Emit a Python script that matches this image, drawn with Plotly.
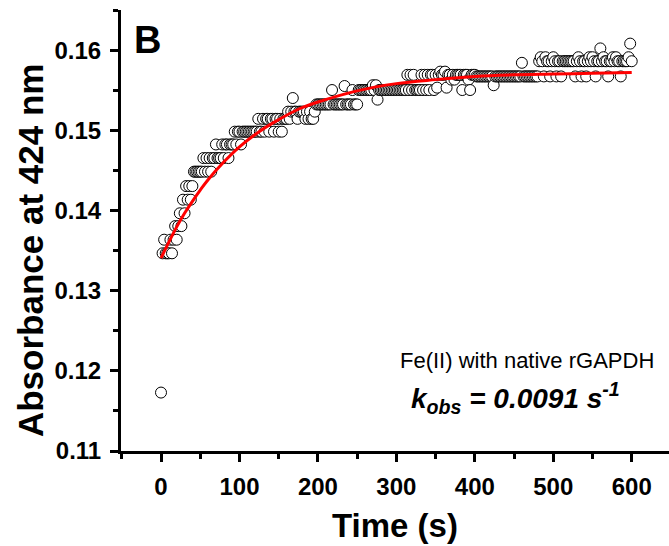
import plotly.graph_objects as go

# Sample times (s)
time_s = [
    0, 2, 4, 6, 8, 10, 12, 14, 16, 18,
    20, 22, 24, 26, 28, 30, 32, 34, 36, 38,
    40, 42, 44, 46, 48, 50, 52, 54, 56, 58,
    60, 62, 64, 66, 68, 70, 72, 74, 76, 78,
    80, 82, 84, 86, 88, 90, 92, 94, 96, 98,
    100, 102, 104, 106, 108, 110, 112, 114, 116, 118,
    120, 122, 124, 126, 128, 130, 132, 134, 136, 138,
    140, 142, 144, 146, 148, 150, 152, 154, 156, 158,
    160, 162, 164, 166, 168, 170, 172, 174, 176, 178,
    180, 182, 184, 186, 188, 190, 192, 194, 196, 198,
    200, 202, 204, 206, 208, 210, 212, 214, 216, 218,
    220, 222, 224, 226, 228, 230, 232, 234, 236, 238,
    240, 242, 244, 246, 248, 250, 252, 254, 256, 258,
    260, 262, 264, 266, 268, 270, 272, 274, 276, 278,
    280, 282, 284, 286, 288, 290, 292, 294, 296, 298,
    300, 302, 304, 306, 308, 310, 312, 314, 316, 318,
    320, 322, 324, 326, 328, 330, 332, 334, 336, 338,
    340, 342, 344, 346, 348, 350, 352, 354, 356, 358,
    360, 362, 364, 366, 368, 370, 372, 374, 376, 378,
    380, 382, 384, 386, 388, 390, 392, 394, 396, 398,
    400, 402, 404, 406, 408, 410, 412, 414, 416, 418,
    420, 422, 424, 426, 428, 430, 432, 434, 436, 438,
    440, 442, 444, 446, 448, 450, 452, 454, 456, 458,
    460, 462, 464, 466, 468, 470, 472, 474, 476, 478,
    480, 482, 484, 486, 488, 490, 492, 494, 496, 498,
    500, 502, 504, 506, 508, 510, 512, 514, 516, 518,
    520, 522, 524, 526, 528, 530, 532, 534, 536, 538,
    540, 542, 544, 546, 548, 550, 552, 554, 556, 558,
    560, 562, 564, 566, 568, 570, 572, 574, 576, 578,
    580, 582, 584, 586, 588, 590, 592, 594, 596, 598,
    600,
]

# Absorbance at 424 nm (measured points)
absorbance = [
    0.1173, 0.1347, 0.1364, 0.1347, 0.1347, 0.1347, 0.1364, 0.1347, 0.1364, 0.1381,
    0.1364, 0.1381, 0.1397, 0.1381, 0.1414, 0.1397, 0.1431, 0.1414, 0.1431, 0.1414,
    0.1431, 0.1449, 0.1449, 0.1449, 0.1449, 0.1449, 0.1449, 0.1466, 0.1449, 0.1466,
    0.1449, 0.1466, 0.1449, 0.1466, 0.1466, 0.1483, 0.1466, 0.1466, 0.1466, 0.1483,
    0.1466, 0.1483, 0.1483, 0.1466, 0.1483, 0.1483, 0.1483, 0.1499, 0.1483, 0.1499,
    0.1499, 0.1483, 0.1499, 0.1499, 0.1499, 0.1499, 0.1499, 0.1499, 0.1499, 0.1499,
    0.1499, 0.1499, 0.1515, 0.1499, 0.1499, 0.1515, 0.1499, 0.1515, 0.1515, 0.1499,
    0.1515, 0.1515, 0.1499, 0.1515, 0.1515, 0.1499, 0.1515, 0.1499, 0.1515, 0.1515,
    0.1515, 0.1524, 0.1515, 0.1524, 0.1541, 0.1524, 0.1524, 0.1515, 0.1524, 0.1524,
    0.1524, 0.1524, 0.1515, 0.1524, 0.1515, 0.1524, 0.1515, 0.1515, 0.1524, 0.1533,
    0.1533, 0.1533, 0.1533, 0.1533, 0.1533, 0.1533, 0.1533, 0.1533, 0.1533, 0.1551,
    0.1533, 0.1533, 0.1533, 0.1533, 0.1533, 0.1533, 0.1533, 0.1556, 0.1533, 0.1533,
    0.1533, 0.1533, 0.1551, 0.1533, 0.1533, 0.1533, 0.1551, 0.1551, 0.1551, 0.1551,
    0.1551, 0.1551, 0.1551, 0.1551, 0.1551, 0.1557, 0.1551, 0.1557, 0.1539, 0.1551,
    0.1551, 0.1551, 0.1551, 0.1551, 0.1551, 0.1551, 0.1551, 0.1551, 0.1551, 0.1551,
    0.1551, 0.1551, 0.1551, 0.1551, 0.1551, 0.1551, 0.1551, 0.1570, 0.1551, 0.1570,
    0.1551, 0.1570, 0.1551, 0.1551, 0.1551, 0.1551, 0.1570, 0.1551, 0.1570, 0.1551,
    0.1570, 0.1551, 0.1570, 0.1570, 0.1551, 0.1570, 0.1554, 0.1570, 0.1574, 0.1570,
    0.1570, 0.1574, 0.1554, 0.1570, 0.1570, 0.1564, 0.1570, 0.1564, 0.1570, 0.1570,
    0.1570, 0.1570, 0.1551, 0.1570, 0.1570, 0.1570, 0.1564, 0.1551, 0.1570, 0.1570,
    0.1570, 0.1568, 0.1568, 0.1568, 0.1568, 0.1568, 0.1568, 0.1568, 0.1568, 0.1568,
    0.1568, 0.1568, 0.1557, 0.1568, 0.1568, 0.1568, 0.1568, 0.1568, 0.1568, 0.1568,
    0.1568, 0.1568, 0.1568, 0.1568, 0.1568, 0.1568, 0.1568, 0.1568, 0.1568, 0.1568,
    0.1585, 0.1568, 0.1568, 0.1568, 0.1568, 0.1568, 0.1568, 0.1568, 0.1568, 0.1568,
    0.1568, 0.1587, 0.1592, 0.1587, 0.1568, 0.1592, 0.1587, 0.1587, 0.1568, 0.1587,
    0.1592, 0.1587, 0.1568, 0.1587, 0.1587, 0.1568, 0.1587, 0.1587, 0.1587, 0.1587,
    0.1587, 0.1587, 0.1587, 0.1587, 0.1568, 0.1587, 0.1592, 0.1587, 0.1568, 0.1587,
    0.1587, 0.1568, 0.1587, 0.1592, 0.1587, 0.1592, 0.1587, 0.1568, 0.1587, 0.1587,
    0.1603, 0.1587, 0.1592, 0.1587, 0.1587, 0.1568, 0.1587, 0.1587, 0.1592, 0.1587,
    0.1592, 0.1587, 0.1587, 0.1568, 0.1587, 0.1587, 0.1587, 0.1587, 0.1592, 0.1609,
    0.1587,
]

# Fitted curve (red)
fit_time = [0, 10, 20, 30, 40, 50, 60, 80, 100, 125, 150, 175, 200,
            250, 300, 350, 400, 450, 500, 550, 600]
fit_abs = [0.1341, 0.1361, 0.1380, 0.1397, 0.1412, 0.1426, 0.1439, 0.1461,
           0.1480, 0.1499, 0.1514, 0.1527, 0.1536, 0.1550, 0.1559, 0.1564,
           0.1568, 0.1570, 0.1571, 0.1572, 0.1573]

x_ticks = [0, 100, 200, 300, 400, 500, 600]
y_ticks = [0.11, 0.12, 0.13, 0.14, 0.15, 0.16]

FONT = "Liberation Sans, Arial, sans-serif"
X_RANGE = [-51, 647.5]
Y_RANGE = [0.11, 0.1651]

fig = go.Figure()
fig.add_trace(go.Scatter(
    x=time_s, y=absorbance, mode="markers",
    marker=dict(symbol="circle", size=11, color="white",
                line=dict(color="black", width=1)),
    showlegend=False, hoverinfo="skip",
))
fig.add_trace(go.Scatter(
    x=fit_time, y=fit_abs, mode="lines", line_shape="spline",
    line=dict(color="#ff0000", width=3),
    showlegend=False, hoverinfo="skip",
))

tickfont = dict(family=FONT, size=24, color="black", weight="bold")

fig.update_layout(
    width=669, height=546,
    margin=dict(l=121, r=0, t=10, b=95),
    paper_bgcolor="white", plot_bgcolor="white",
    xaxis=dict(
        range=X_RANGE, showgrid=False, zeroline=False,
        showline=True, linecolor="black", linewidth=3,
        tickmode="array", tickvals=x_ticks, ticktext=[str(v) for v in x_ticks],
        ticks="outside", ticklen=8, tickwidth=3, tickcolor="black",
        minor=dict(dtick=50, tick0=0, ticks="outside", ticklen=5, tickwidth=3,
                   tickcolor="black", showgrid=False),
        tickfont=tickfont, ticklabelstandoff=4,
    ),
    yaxis=dict(
        range=Y_RANGE, showgrid=False, zeroline=False,
        showline=True, linecolor="black", linewidth=3,
        tickmode="array", tickvals=y_ticks, ticktext=["%.2f" % v for v in y_ticks],
        ticks="outside", ticklen=8, tickwidth=3, tickcolor="black",
        minor=dict(dtick=0.005, tick0=0.11, ticks="outside", ticklen=5, tickwidth=3,
                   tickcolor="black", showgrid=False),
        tickfont=tickfont, ticklabelstandoff=4,
    ),
    xaxis2=dict(
        overlaying="x", side="top", anchor="y", range=X_RANGE,
        showgrid=False, zeroline=False, showline=True, linecolor="black", linewidth=2,
        tickmode="array", tickvals=x_ticks, ticktext=[str(v) for v in x_ticks],
        showticklabels=False,
        ticks="inside", ticklen=6, tickwidth=2, tickcolor="black",
        minor=dict(dtick=50, tick0=0, ticks="inside", ticklen=4, tickwidth=2,
                   tickcolor="black", showgrid=False),
    ),
    yaxis2=dict(
        overlaying="y", side="right", anchor="x", range=Y_RANGE,
        showgrid=False, zeroline=False, showline=True, linecolor="black", linewidth=2,
        tickmode="array", tickvals=y_ticks, ticktext=["%.2f" % v for v in y_ticks],
        showticklabels=False,
        ticks="inside", ticklen=6, tickwidth=2, tickcolor="black",
        minor=dict(dtick=0.005, tick0=0.11, ticks="inside", ticklen=4, tickwidth=2,
                   tickcolor="black", showgrid=False),
    ),
)

annotations = [
    dict(text="Time (s)", xref="paper", yref="paper", x=0.5, y=-0.17,
         xanchor="center", yanchor="middle", showarrow=False,
         font=dict(family=FONT, size=33, color="black", weight="bold")),
    dict(text="Absorbance at 424 nm", xref="paper", yref="paper",
         x=-0.166, y=0.4535, xanchor="center", yanchor="middle", textangle=-90,
         showarrow=False,
         font=dict(family=FONT, size=35, color="black", weight="bold")),
    dict(text="B", xref="paper", yref="paper", x=0.02, y=0.932,
         xanchor="left", yanchor="middle", showarrow=False,
         font=dict(family=FONT, size=38, color="black", weight="bold")),
    dict(text="Fe(II) with native rGAPDH", xref="paper", yref="paper",
         x=0.9763, y=0.2063, xanchor="right", yanchor="middle", showarrow=False,
         font=dict(family=FONT, size=22, color="black")),
    dict(text="k<sub>obs</sub> = 0.0091 s<sup>-1</sup>", xref="paper", yref="paper",
         x=0.5264, y=0.12, xanchor="left", yanchor="middle", showarrow=False,
         font=dict(family=FONT, size=28, color="black", weight="bold", style="italic")),
]
fig.update_layout(annotations=annotations)

fig.write_html("out.html")
